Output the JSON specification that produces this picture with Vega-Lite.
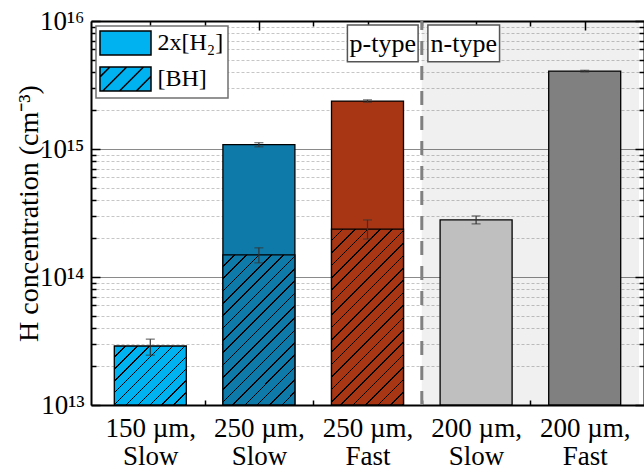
{
  "$schema": "https://vega.github.io/schema/vega-lite/v6.json",
  "width": 553,
  "height": 384,
  "autosize": {"type": "none"},
  "padding": {"left": 91, "top": 21, "right": 0, "bottom": 66},
  "background": "white",
  "config": {
    "font": "Liberation Serif",
    "view": {"stroke": null},
    "axis": {
      "labelFont": "Liberation Serif",
      "titleFont": "Liberation Serif",
      "labelFontSize": 27,
      "titleFontSize": 28,
      "titleFontWeight": "normal",
      "labelColor": "black",
      "titleColor": "black",
      "domainColor": "black",
      "domainWidth": 2,
      "tickColor": "black",
      "tickWidth": 1.5,
      "labelOverlap": false,
      "labelFlush": false,
      "grid": false
    },
    "legend": {
      "orient": "top-left",
      "offset": 5,
      "padding": 4,
      "strokeColor": "#707070",
      "strokeWidth": 1.5,
      "fillColor": "white",
      "labelFont": "Liberation Serif",
      "labelFontSize": 24,
      "labelColor": "black",
      "symbolSize": 576,
      "symbolOffset": 12.5,
      "labelOffset": 19,
      "rowPadding": 6,
      "symbolOpacity": 1,
      "symbolStrokeWidth": 1.5,
      "symbolStrokeColor": "black"
    }
  },
  "datasets": {
    "bars": [
      {"pos": 1, "sample": "150 µm, Slow", "part": "[BH]", "value": 2.89e13, "lo": 2.45e13, "hi": 3.27e13},
      {"pos": 2, "sample": "250 µm, Slow", "part": "2x[H₂]", "value": 1.08e15, "lo": 1.04e15, "hi": 1.12e15},
      {"pos": 2, "sample": "250 µm, Slow", "part": "[BH]", "value": 1.49e14, "lo": 1.29e14, "hi": 1.69e14},
      {"pos": 3, "sample": "250 µm, Fast", "part": "2x[H₂]", "value": 2.37e15, "lo": 2.32e15, "hi": 2.42e15},
      {"pos": 3, "sample": "250 µm, Fast", "part": "[BH]", "value": 2.37e14, "lo": 1.98e14, "hi": 2.79e14},
      {"pos": 4, "sample": "200 µm, Slow", "part": "total", "value": 2.79e14, "lo": 2.6e14, "hi": 3.0e14},
      {"pos": 5, "sample": "200 µm, Fast", "part": "total", "value": 4.06e15, "lo": 4.0e15, "hi": 4.12e15}
    ]
  },
  "data": {"name": "bars"},
  "layer": [
    {
      "data": {"values": [{}]},
      "mark": {"type": "rect", "fill": "black", "opacity": 0.06},
      "encoding": {
        "x": {
          "datum": 3.5, "type": "quantitative",
          "scale": {"domain": [0.5, 5.5], "nice": false, "zero": false},
          "axis": {
            "orient": "bottom",
            "values": [1, 1.5, 2, 2.5, 3, 3.5, 4, 4.5, 5],
            "title": null,
            "labelExpr": "datum.value == 1 ? ['150 µm,', 'Slow'] : datum.value == 2 ? ['250 µm,', 'Slow'] : datum.value == 3 ? ['250 µm,', 'Fast'] : datum.value == 4 ? ['200 µm,', 'Slow'] : datum.value == 5 ? ['200 µm,', 'Fast'] : ''",
            "tickSize": {"condition": {"test": "datum.value % 1 == 0", "value": -9}, "value": -5},
            "labelPadding": 19,
            "labelLineHeight": 28,
            "labelAlign": "center"
          }
        },
        "x2": {"datum": 5.5},
        "y": {
          "datum": 1e13, "type": "quantitative",
          "scale": {"type": "log", "domain": [1e13, 1e16], "nice": false},
          "axis": {
            "orient": "left",
            "values": [1e13, 2e13, 3e13, 4e13, 5e13, 6e13, 7e13, 8e13, 9e13, 1e14, 2e14, 3e14, 4e14, 5e14, 6e14, 7e14, 8e14, 9e14, 1e15, 2e15, 3e15, 4e15, 5e15, 6e15, 7e15, 8e15, 9e15, 1e16],
            "title": "H concentration (cm⁻³)",
            "titlePadding": -4,
            "labelExpr": "datum.value == 1e13 ? '10¹³' : datum.value == 1e14 ? '10¹⁴' : datum.value == 1e15 ? '10¹⁵' : datum.value == 1e16 ? '10¹⁶' : ''",
            "tickSize": {"condition": {"test": "indexof([1e13, 1e14, 1e15, 1e16], datum.value) >= 0", "value": -9}, "value": -5},
            "labelPadding": 16,
            "grid": true,
            "gridWidth": 1,
            "gridColor": {"condition": {"test": "indexof([1e13, 1e14, 1e15, 1e16], datum.value) >= 0", "value": "#8a8a8a"}, "value": "#c6c6c6"},
            "gridDash": {"condition": {"test": "indexof([1e13, 1e14, 1e15, 1e16], datum.value) >= 0", "value": []}, "value": [3, 2]}
          }
        },
        "y2": {"datum": 1e16}
      }
    },
    {
      "data": {"values": [{}]},
      "mark": {"type": "rule", "stroke": "#808080", "strokeWidth": 3, "strokeDash": [14, 11]},
      "encoding": {
        "x": {
          "datum": 3.5, "type": "quantitative",
          "axis": {
            "orient": "top",
            "values": [1, 1.5, 2, 2.5, 3, 3.5, 4, 4.5, 5],
            "labels": false,
            "title": null,
            "tickSize": {"condition": {"test": "datum.value % 1 == 0", "value": -9}, "value": -5}
          }
        },
        "y": {
          "datum": 1e13, "type": "quantitative",
          "axis": {
            "orient": "right",
            "values": [1e13, 2e13, 3e13, 4e13, 5e13, 6e13, 7e13, 8e13, 9e13, 1e14, 2e14, 3e14, 4e14, 5e14, 6e14, 7e14, 8e14, 9e14, 1e15, 2e15, 3e15, 4e15, 5e15, 6e15, 7e15, 8e15, 9e15, 1e16],
            "labels": false,
            "title": null,
            "grid": false,
            "tickSize": {"condition": {"test": "indexof([1e13, 1e14, 1e15, 1e16], datum.value) >= 0", "value": -9}, "value": -5}
          }
        },
        "y2": {"datum": 1e16}
      }
    },
    {
      "transform": [{"filter": "datum.part != '[BH]'"}],
      "mark": {"type": "bar", "width": 72, "stroke": "black", "strokeWidth": 1.3},
      "encoding": {
        "x": {"field": "pos", "type": "quantitative", "axis": null},
        "y": {"field": "value", "type": "quantitative", "axis": null},
        "y2": {"datum": 1e13},
        "color": {
          "field": "sample", "type": "nominal",
          "scale": {
            "domain": ["150 µm, Slow", "250 µm, Slow", "250 µm, Fast", "200 µm, Slow", "200 µm, Fast"],
            "range": ["#00b2f0", "#0e7aa9", "#a83614", "#bfbfbf", "#808080"]
          },
          "legend": null
        }
      }
    },
    {
      "transform": [{"filter": "datum.part == '[BH]' && datum.pos == 1"}],
      "mark": {
        "type": "bar", "width": 72, "stroke": "black", "strokeWidth": 1.3,
        "fill": {
          "gradient": "linear", "x1": 0, "y1": 0, "x2": 1.0885, "y2": 0.892,
          "stops": [
            {"offset": 0, "color": "#00b2f0"},
            {"offset": 0.0789, "color": "#00b2f0"}, {"offset": 0.0789, "color": "#000000"}, {"offset": 0.0909, "color": "#000000"}, {"offset": 0.0909, "color": "#00b2f0"},
            {"offset": 0.1698, "color": "#00b2f0"}, {"offset": 0.1698, "color": "#000000"}, {"offset": 0.1818, "color": "#000000"}, {"offset": 0.1818, "color": "#00b2f0"},
            {"offset": 0.2607, "color": "#00b2f0"}, {"offset": 0.2607, "color": "#000000"}, {"offset": 0.2727, "color": "#000000"}, {"offset": 0.2727, "color": "#00b2f0"},
            {"offset": 0.3516, "color": "#00b2f0"}, {"offset": 0.3516, "color": "#000000"}, {"offset": 0.3636, "color": "#000000"}, {"offset": 0.3636, "color": "#00b2f0"},
            {"offset": 0.4425, "color": "#00b2f0"}, {"offset": 0.4425, "color": "#000000"}, {"offset": 0.4545, "color": "#000000"}, {"offset": 0.4545, "color": "#00b2f0"},
            {"offset": 0.5335, "color": "#00b2f0"}, {"offset": 0.5335, "color": "#000000"}, {"offset": 0.5455, "color": "#000000"}, {"offset": 0.5455, "color": "#00b2f0"},
            {"offset": 0.6244, "color": "#00b2f0"}, {"offset": 0.6244, "color": "#000000"}, {"offset": 0.6364, "color": "#000000"}, {"offset": 0.6364, "color": "#00b2f0"},
            {"offset": 0.7153, "color": "#00b2f0"}, {"offset": 0.7153, "color": "#000000"}, {"offset": 0.7273, "color": "#000000"}, {"offset": 0.7273, "color": "#00b2f0"},
            {"offset": 0.8062, "color": "#00b2f0"}, {"offset": 0.8062, "color": "#000000"}, {"offset": 0.8182, "color": "#000000"}, {"offset": 0.8182, "color": "#00b2f0"},
            {"offset": 0.8971, "color": "#00b2f0"}, {"offset": 0.8971, "color": "#000000"}, {"offset": 0.9091, "color": "#000000"}, {"offset": 0.9091, "color": "#00b2f0"},
            {"offset": 0.988, "color": "#00b2f0"}, {"offset": 0.988, "color": "#000000"}, {"offset": 1, "color": "#000000"}
          ]
        }
      },
      "encoding": {
        "x": {"field": "pos", "type": "quantitative", "axis": null},
        "y": {"field": "value", "type": "quantitative", "axis": null},
        "y2": {"datum": 1e13}
      }
    },
    {
      "transform": [{"filter": "datum.part == '[BH]' && datum.pos == 2"}],
      "mark": {
        "type": "bar", "width": 72, "stroke": "black", "strokeWidth": 1.3,
        "fill": {
          "gradient": "linear", "x1": 0, "y1": 0, "x2": 0.5774, "y2": 1.2029,
          "stops": [
            {"offset": 0, "color": "#0e7aa9"},
            {"offset": 0.0486, "color": "#0e7aa9"}, {"offset": 0.0486, "color": "#000000"}, {"offset": 0.0556, "color": "#000000"}, {"offset": 0.0556, "color": "#0e7aa9"},
            {"offset": 0.1041, "color": "#0e7aa9"}, {"offset": 0.1041, "color": "#000000"}, {"offset": 0.1111, "color": "#000000"}, {"offset": 0.1111, "color": "#0e7aa9"},
            {"offset": 0.1597, "color": "#0e7aa9"}, {"offset": 0.1597, "color": "#000000"}, {"offset": 0.1667, "color": "#000000"}, {"offset": 0.1667, "color": "#0e7aa9"},
            {"offset": 0.2152, "color": "#0e7aa9"}, {"offset": 0.2152, "color": "#000000"}, {"offset": 0.2222, "color": "#000000"}, {"offset": 0.2222, "color": "#0e7aa9"},
            {"offset": 0.2708, "color": "#0e7aa9"}, {"offset": 0.2708, "color": "#000000"}, {"offset": 0.2778, "color": "#000000"}, {"offset": 0.2778, "color": "#0e7aa9"},
            {"offset": 0.3263, "color": "#0e7aa9"}, {"offset": 0.3263, "color": "#000000"}, {"offset": 0.3333, "color": "#000000"}, {"offset": 0.3333, "color": "#0e7aa9"},
            {"offset": 0.3819, "color": "#0e7aa9"}, {"offset": 0.3819, "color": "#000000"}, {"offset": 0.3889, "color": "#000000"}, {"offset": 0.3889, "color": "#0e7aa9"},
            {"offset": 0.4374, "color": "#0e7aa9"}, {"offset": 0.4374, "color": "#000000"}, {"offset": 0.4444, "color": "#000000"}, {"offset": 0.4444, "color": "#0e7aa9"},
            {"offset": 0.493, "color": "#0e7aa9"}, {"offset": 0.493, "color": "#000000"}, {"offset": 0.5, "color": "#000000"}, {"offset": 0.5, "color": "#0e7aa9"},
            {"offset": 0.5486, "color": "#0e7aa9"}, {"offset": 0.5486, "color": "#000000"}, {"offset": 0.5556, "color": "#000000"}, {"offset": 0.5556, "color": "#0e7aa9"},
            {"offset": 0.6041, "color": "#0e7aa9"}, {"offset": 0.6041, "color": "#000000"}, {"offset": 0.6111, "color": "#000000"}, {"offset": 0.6111, "color": "#0e7aa9"},
            {"offset": 0.6597, "color": "#0e7aa9"}, {"offset": 0.6597, "color": "#000000"}, {"offset": 0.6667, "color": "#000000"}, {"offset": 0.6667, "color": "#0e7aa9"},
            {"offset": 0.7152, "color": "#0e7aa9"}, {"offset": 0.7152, "color": "#000000"}, {"offset": 0.7222, "color": "#000000"}, {"offset": 0.7222, "color": "#0e7aa9"},
            {"offset": 0.7708, "color": "#0e7aa9"}, {"offset": 0.7708, "color": "#000000"}, {"offset": 0.7778, "color": "#000000"}, {"offset": 0.7778, "color": "#0e7aa9"},
            {"offset": 0.8263, "color": "#0e7aa9"}, {"offset": 0.8263, "color": "#000000"}, {"offset": 0.8333, "color": "#000000"}, {"offset": 0.8333, "color": "#0e7aa9"},
            {"offset": 0.8819, "color": "#0e7aa9"}, {"offset": 0.8819, "color": "#000000"}, {"offset": 0.8889, "color": "#000000"}, {"offset": 0.8889, "color": "#0e7aa9"},
            {"offset": 0.9374, "color": "#0e7aa9"}, {"offset": 0.9374, "color": "#000000"}, {"offset": 0.9444, "color": "#000000"}, {"offset": 0.9444, "color": "#0e7aa9"},
            {"offset": 0.993, "color": "#0e7aa9"}, {"offset": 0.993, "color": "#000000"}, {"offset": 1, "color": "#000000"}
          ]
        }
      },
      "encoding": {
        "x": {"field": "pos", "type": "quantitative", "axis": null},
        "y": {"field": "value", "type": "quantitative", "axis": null},
        "y2": {"datum": 1e13}
      }
    },
    {
      "transform": [{"filter": "datum.part == '[BH]' && datum.pos == 3"}],
      "mark": {
        "type": "bar", "width": 72, "stroke": "black", "strokeWidth": 1.3,
        "fill": {
          "gradient": "linear", "x1": 0, "y1": 0, "x2": 0.4938, "y2": 1.2071,
          "stops": [
            {"offset": 0, "color": "#a83614"},
            {"offset": 0.0437, "color": "#a83614"}, {"offset": 0.0437, "color": "#000000"}, {"offset": 0.05, "color": "#000000"}, {"offset": 0.05, "color": "#a83614"},
            {"offset": 0.0937, "color": "#a83614"}, {"offset": 0.0937, "color": "#000000"}, {"offset": 0.1, "color": "#000000"}, {"offset": 0.1, "color": "#a83614"},
            {"offset": 0.1437, "color": "#a83614"}, {"offset": 0.1437, "color": "#000000"}, {"offset": 0.15, "color": "#000000"}, {"offset": 0.15, "color": "#a83614"},
            {"offset": 0.1937, "color": "#a83614"}, {"offset": 0.1937, "color": "#000000"}, {"offset": 0.2, "color": "#000000"}, {"offset": 0.2, "color": "#a83614"},
            {"offset": 0.2437, "color": "#a83614"}, {"offset": 0.2437, "color": "#000000"}, {"offset": 0.25, "color": "#000000"}, {"offset": 0.25, "color": "#a83614"},
            {"offset": 0.2937, "color": "#a83614"}, {"offset": 0.2937, "color": "#000000"}, {"offset": 0.3, "color": "#000000"}, {"offset": 0.3, "color": "#a83614"},
            {"offset": 0.3437, "color": "#a83614"}, {"offset": 0.3437, "color": "#000000"}, {"offset": 0.35, "color": "#000000"}, {"offset": 0.35, "color": "#a83614"},
            {"offset": 0.3937, "color": "#a83614"}, {"offset": 0.3937, "color": "#000000"}, {"offset": 0.4, "color": "#000000"}, {"offset": 0.4, "color": "#a83614"},
            {"offset": 0.4437, "color": "#a83614"}, {"offset": 0.4437, "color": "#000000"}, {"offset": 0.45, "color": "#000000"}, {"offset": 0.45, "color": "#a83614"},
            {"offset": 0.4937, "color": "#a83614"}, {"offset": 0.4937, "color": "#000000"}, {"offset": 0.5, "color": "#000000"}, {"offset": 0.5, "color": "#a83614"},
            {"offset": 0.5437, "color": "#a83614"}, {"offset": 0.5437, "color": "#000000"}, {"offset": 0.55, "color": "#000000"}, {"offset": 0.55, "color": "#a83614"},
            {"offset": 0.5937, "color": "#a83614"}, {"offset": 0.5937, "color": "#000000"}, {"offset": 0.6, "color": "#000000"}, {"offset": 0.6, "color": "#a83614"},
            {"offset": 0.6437, "color": "#a83614"}, {"offset": 0.6437, "color": "#000000"}, {"offset": 0.65, "color": "#000000"}, {"offset": 0.65, "color": "#a83614"},
            {"offset": 0.6937, "color": "#a83614"}, {"offset": 0.6937, "color": "#000000"}, {"offset": 0.7, "color": "#000000"}, {"offset": 0.7, "color": "#a83614"},
            {"offset": 0.7437, "color": "#a83614"}, {"offset": 0.7437, "color": "#000000"}, {"offset": 0.75, "color": "#000000"}, {"offset": 0.75, "color": "#a83614"},
            {"offset": 0.7937, "color": "#a83614"}, {"offset": 0.7937, "color": "#000000"}, {"offset": 0.8, "color": "#000000"}, {"offset": 0.8, "color": "#a83614"},
            {"offset": 0.8437, "color": "#a83614"}, {"offset": 0.8437, "color": "#000000"}, {"offset": 0.85, "color": "#000000"}, {"offset": 0.85, "color": "#a83614"},
            {"offset": 0.8937, "color": "#a83614"}, {"offset": 0.8937, "color": "#000000"}, {"offset": 0.9, "color": "#000000"}, {"offset": 0.9, "color": "#a83614"},
            {"offset": 0.9437, "color": "#a83614"}, {"offset": 0.9437, "color": "#000000"}, {"offset": 0.95, "color": "#000000"}, {"offset": 0.95, "color": "#a83614"},
            {"offset": 0.9937, "color": "#a83614"}, {"offset": 0.9937, "color": "#000000"}, {"offset": 1, "color": "#000000"}
          ]
        }
      },
      "encoding": {
        "x": {"field": "pos", "type": "quantitative", "axis": null},
        "y": {"field": "value", "type": "quantitative", "axis": null},
        "y2": {"datum": 1e13}
      }
    },
    {
      "mark": {"type": "errorbar", "ticks": {"size": 9}, "color": "#333333", "thickness": 1.2},
      "encoding": {
        "x": {"field": "pos", "type": "quantitative", "axis": null},
        "y": {"field": "lo", "type": "quantitative", "axis": null},
        "y2": {"field": "hi"}
      }
    },
    {
      "transform": [{"filter": "datum.part != 'total'"}],
      "mark": {"type": "point", "filled": true, "opacity": 0, "stroke": "black", "strokeWidth": 1.5},
      "encoding": {
        "x": {"field": "pos", "type": "quantitative", "axis": null},
        "y": {"field": "value", "type": "quantitative", "axis": null},
        "fill": {
          "field": "part", "type": "nominal",
          "scale": {"domain": ["2x[H₂]", "[BH]"], "range": ["#00b2f0", "#00b2f0"]},
          "legend": {
            "title": null,
            "symbolOpacity": 1,
            "encode": {
              "symbols": {
                "update": {
                  "shape": {"signal": "datum.value == '[BH]' ? 'M-2.125,-1H2.125V1H-2.125Z M-2.125,-0.175L-1.3,-1 M-1.9,1L0.1,-1 M-0.5,1L1.5,-1 M0.9,1L2.125,-0.225' : 'M-2.125,-1H2.125V1H-2.125Z'"},
                  "stroke": {"value": "black"},
                  "strokeWidth": {"value": 1.5},
                  "opacity": {"value": 1}
                }
              }
            }
          }
        }
      }
    },
    {
      "data": {"values": [{}]},
      "mark": {"type": "rect", "fill": "white", "stroke": "#555555", "strokeWidth": 1.5},
      "encoding": {
        "x": {"datum": 2.815, "type": "quantitative", "axis": null},
        "x2": {"datum": 3.466},
        "y": {"datum": 9.3e15, "type": "quantitative", "axis": null},
        "y2": {"datum": 4.8e15}
      }
    },
    {
      "data": {"values": [{}]},
      "mark": {"type": "text", "text": "p-type", "font": "Liberation Serif", "fontSize": 26, "align": "center", "baseline": "alphabetic", "color": "black"},
      "encoding": {
        "x": {"datum": 3.14, "type": "quantitative", "axis": null},
        "y": {"datum": 5.73e15, "type": "quantitative", "axis": null}
      }
    },
    {
      "data": {"values": [{}]},
      "mark": {"type": "rect", "fill": "white", "stroke": "#555555", "strokeWidth": 1.5},
      "encoding": {
        "x": {"datum": 3.556, "type": "quantitative", "axis": null},
        "x2": {"datum": 4.216},
        "y": {"datum": 9.3e15, "type": "quantitative", "axis": null},
        "y2": {"datum": 4.8e15}
      }
    },
    {
      "data": {"values": [{}]},
      "mark": {"type": "text", "text": "n-type", "font": "Liberation Serif", "fontSize": 26, "align": "center", "baseline": "alphabetic", "color": "black"},
      "encoding": {
        "x": {"datum": 3.886, "type": "quantitative", "axis": null},
        "y": {"datum": 5.73e15, "type": "quantitative", "axis": null}
      }
    }
  ]
}
